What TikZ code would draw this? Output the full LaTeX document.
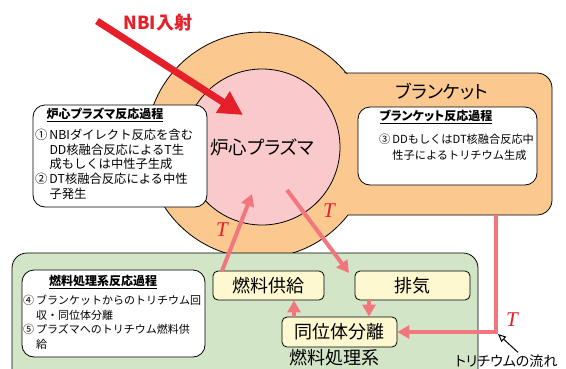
\documentclass[tikz,border=0pt]{standalone}
\usepackage{fontspec}
\setmainfont{Noto Sans CJK JP}[RawFeature=+palt]
\newfontfamily\jpf{Noto Sans CJK JP}
\newfontfamily\tfont{Liberation Serif}
\usetikzlibrary{arrows.meta,calc}
\definecolor{orangeF}{RGB}{251,201,143}
\definecolor{plasmaF}{RGB}{249,201,203}
\definecolor{greenF}{RGB}{211,229,199}
\definecolor{creamF}{RGB}{253,248,207}
\definecolor{arrowP}{RGB}{242,118,126}
\definecolor{nbired}{RGB}{229,32,42}
\begin{document}
\begin{tikzpicture}[x=1pt,y=-1pt,
  box/.style={draw, line width=0.8pt, rounded corners=12pt, fill=white},
  cream/.style={draw, line width=0.8pt, rounded corners=5pt, fill=creamF, font=\fontsize{18}{20}\selectfont, inner sep=0pt},
  parr/.style={draw=arrowP, line width=4pt, -{Triangle[length=12pt,width=13pt]}},
  tlabel/.style={text=nbired, font=\fontsize{21}{22}\selectfont\tfont\itshape, inner sep=0pt},
  ttl/.style={font=\fontsize{12}{14}\selectfont\bfseries, inner sep=0pt},
  body/.style={anchor=base west, inner sep=0pt},
  biglabel/.style={font=\fontsize{18}{20}\selectfont, inner sep=0pt},
]
\useasboundingbox (0,0) rectangle (566,368);
\begin{scope}
\clip (0,0) rectangle (566,368);
% blanket (orange) shape
\path[fill=orangeF, draw=black, line width=0.8pt]
  (346,73) -- (537,73) arc[start angle=90,end angle=0,radius=15pt]
  -- (552,200) arc[start angle=0,end angle=-90,radius=15pt]
  -- (348,215) arc[start angle=-38.2,end angle=-320.4,radius=113pt] -- cycle;
% plasma
\node[circle, draw, line width=0.8pt, fill=plasmaF, minimum size=156pt, inner sep=0pt,
      font=\fontsize{18.5}{20}\selectfont] (plasma) at (262,147) {炉心プラズマ};
% fuel processing system (green)
\draw[fill=greenF, line width=0.8pt, rounded corners=15pt] (12,253) rectangle (478,400);
\node[biglabel] (fps) at (334,358) {燃料処理系};
% white boxes
\draw[box] (33,105) rectangle (207,207);
\draw[box] (358,107) rectangle (537,185);
\draw[box] (22,270) rectangle (205,357);
\node[biglabel] (blanket) at (442,91) {ブランケット};
% titles
\node[ttl] (t1) at (105,115) {\underline{炉心プラズマ反応過程}};
\node[ttl] (t2) at (436,117) {\underline{ブランケット反応過程}};
\node[ttl] (t3) at (103,282) {\underline{燃料処理系反応過程}};
% bodies
\node[body, font=\jpf\fontsize{12.3}{14.6}\selectfont] (b1) at (35,139.5) {\begin{tabular}[t]{@{}l@{\hspace{2pt}}l@{}}①&NBIダイレクト反応を含む\\&DD核融合反応によるT生\\&成もしくは中性子生成\\②&DT核融合反応による中性\\&子発生\end{tabular}};
\node[body, font=\jpf\fontsize{11.2}{15.5}\selectfont] (b2) at (379,143.5) {\begin{tabular}[t]{@{}l@{\hspace{2pt}}l@{}}③&DDもしくはDT核融合反応中\\&性子によるトリチウム生成\end{tabular}};
\node[body, font=\jpf\fontsize{11}{14.6}\selectfont] (b3) at (23,304.5) {\begin{tabular}[t]{@{}l@{\hspace{2pt}}l@{}}④&ブランケットからのトリチウム回\\&収・同位体分離\\⑤&プラズマへのトリチウム燃料供\\&給\end{tabular}};
% cream boxes
\node[cream, minimum width=111pt, minimum height=29pt] (fuel) at (268.5,285.5) {燃料供給};
\node[cream, minimum width=115pt, minimum height=29pt] (exhaust) at (412.5,285.5) {排気};
\node[cream, minimum width=115pt, minimum height=30pt] (iso) at (339.5,332) {同位体分離};
% tritium arrows
\coordinate (p1) at (252,194);
\coordinate (f1) at (222,271);
\draw[parr] (f1) -- (p1);
\coordinate (p2) at (287,190);
\coordinate (e1) at (349,273);
\draw[parr] (p2) -- (e1);
\draw[parr] ([xshift=-43.5pt]exhaust.south) -- ([xshift=29.5pt]iso.north);
\draw[parr] ([xshift=-45.5pt]iso.north) -- ([xshift=25.5pt]fuel.south);
\coordinate (bl) at (496,215);
\coordinate (corner) at (496,332);
\draw[parr] (bl) -- (corner) -- (iso.east);
% T labels
\node[tlabel] (T1) at (222,230) {T};
\node[tlabel] (T2) at (329,211) {T};
\node[tlabel] (T3) at (512,320) {T};
% flow legend
\node[font=\fontsize{14}{15}\selectfont, anchor=west, inner sep=0pt] (flow) at (455,361) {トリチウムの流れ};
\coordinate (tip) at (498,334);
\draw[line width=1pt, -{Triangle[open,length=8pt,width=7pt,fill=white]}] ($(flow.north west)+(63,-2)$) -- (tip);
% NBI
\coordinate (nbi0) at (97,21);
\coordinate (nbi1) at (243,115);
\draw[draw=nbired, line width=7pt, -{Triangle[length=24pt,width=24pt]}] (nbi0) -- (nbi1);
\node[font=\fontsize{18}{20}\selectfont\bfseries, text=nbired, inner sep=0pt] (nbi) at (158,23) {NBI入射};
\end{scope}
\end{tikzpicture}
\end{document}
